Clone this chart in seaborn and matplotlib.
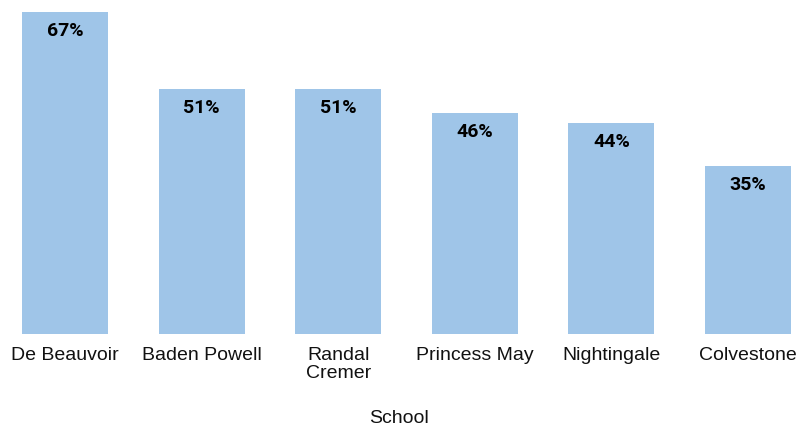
import matplotlib
matplotlib.use("Agg")
import matplotlib.pyplot as plt
import seaborn as sns
import pandas as pd

schools = ["De Beauvoir", "Baden Powell", "Randal\nCremer", "Princess May", "Nightingale", "Colvestone"]
percent = [67, 51, 51, 46, 44, 35]

df = pd.DataFrame({"School": schools, "Percent": percent})

sns.set_theme(style="white")
plt.rcParams['font.family'] = ['Liberation Sans', 'DejaVu Sans']

fig = plt.figure(figsize=(7.99, 4.28), dpi=100)
ax = fig.add_axes([0, 94 / 428, 1, 322 / 428])

sns.barplot(data=df, x="School", y="Percent", color="#9fc5e8", saturation=1, width=0.63,
            linewidth=0, ax=ax)

for i, v in enumerate(percent):
    ax.annotate(f"{v}%", (i, v), xytext=(0, -7.5), textcoords="offset points",
                ha="center", va="top", fontsize=14, fontweight="bold",
                family=["Roboto", "DejaVu Sans"], color="#000000")

ax.set_ylim(0, 67)
ax.set_xlim((0 - 65) / 136.6, (799 - 65) / 136.6)
ax.set_yticks([])
ax.set_ylabel("")
ax.set_xlabel("School", fontsize=14, labelpad=20, color="#111111")
ax.tick_params(axis="x", length=0, pad=9, labelsize=14, colors="#111111")
for t in ax.get_xticklabels():
    t.set_linespacing(1.1)
sns.despine(ax=ax, left=True, bottom=True)

fig.savefig("out.png", dpi=100)
